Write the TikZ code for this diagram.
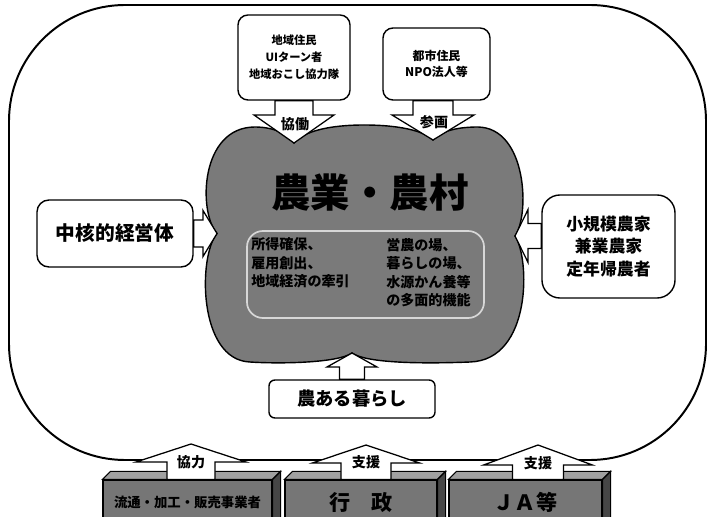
\documentclass[tikz,border=0pt]{standalone}
\usepackage{fontspec}
\setmainfont{Noto Sans CJK JP}
\usetikzlibrary{calc, positioning}
\definecolor{cloudgray}{RGB}{122, 122, 122}
\definecolor{blockgray}{RGB}{118, 118, 118}
\definecolor{blocktop}{RGB}{160, 160, 160}
\definecolor{blockside}{RGB}{70, 70, 70}
\definecolor{rimgray}{RGB}{215, 215, 215}

% fat block arrow: from, tip, half stem, half head, head length
\newcommand{\fatarrow}[5]{%
  \coordinate (fa-h) at ($(#2)!#5!(#1)$);
  \draw[fatarrowline] ($(#1)!#3!90:(#2)$) -- ($(fa-h)!#3!-90:(#1)$) -- ($(fa-h)!#4!-90:(#1)$) -- (#2)
    -- ($(fa-h)!#4!90:(#1)$) -- ($(fa-h)!#3!90:(#1)$) -- ($(#1)!#3!-90:(#2)$) -- cycle;
}

\begin{document}
\begin{tikzpicture}[x=0.025cm, y=-0.025cm,
  whitebox/.style={draw, line width=1pt, fill=white, align=center},
  fatarrowline/.style={draw, line width=0.9pt, fill=white, line join=miter},
  arrowlabel/.style={font=\bfseries\fontsize{10}{12}\selectfont, inner sep=1pt},
  blockface/.style={draw, line width=0.8pt, fill=blockgray, minimum height=1.125cm, inner sep=0pt}]
  \useasboundingbox (0,0) rectangle (709,517);

  % Region
  \draw[line width=1.4pt, rounded corners=2.9cm] (9,5) rectangle (706,460);

  % Arrow tips
  \coordinate (tipA) at (294,143);
  \coordinate (tipB) at (433,140);
  \coordinate (tipL) at (217,233.5);
  \coordinate (tipR) at (515,236);
  \coordinate (tipD) at (352,353);

  % Farming and villages
  \draw[line width=1pt, fill=cloudgray]
    (tipL) .. controls (198,212) and (200,127) .. (255,127)
    .. controls (275,127) and (289,135) .. (tipA)
    .. controls (304,131) and (330,125) .. (364,125)
    .. controls (400,125) and (424,131) .. (tipB)
    .. controls (442,130) and (460,127) .. (478,127)
    .. controls (527,128) and (530,215) .. (tipR)
    .. controls (530,258) and (532,360) .. (470,362)
    .. controls (420,364) and (366,363) .. (tipD)
    .. controls (338,363) and (280,364) .. (250,362)
    .. controls (198,360) and (198,256) .. (tipL) -- cycle;
  \node[draw=rimgray, line width=1.2pt, rounded corners=0.4cm, minimum width=5.925cm, minimum height=2.175cm] (rim) at (365.5,274.5) {};
  \node[font=\bfseries\fontsize{28}{30}\selectfont] (title) at (370,193) {農業・農村};
  \node[anchor=west, align=left, inner sep=0pt, font=\bfseries\fontsize{10}{13.2}\selectfont] (gain) at (251,263) {
    所得確保、\\雇用創出、\\地域経済の牽引
  };
  \node[anchor=west, align=left, inner sep=0pt, font=\bfseries\fontsize{10}{13.2}\selectfont] (role) at (386,272.5) {
    営農の場、\\暮らしの場、\\水源かん養等\\の多面的機能
  };

  % Actors round it
  \node[whitebox, rounded corners=0.25cm, minimum width=2.8cm, minimum height=2.125cm, font=\bfseries\fontsize{8}{12}\selectfont] (locals) at (294,57.5) {地域住民\\UIターン者\\地域おこし協力隊};
  \node[whitebox, rounded corners=0.25cm, minimum width=2.675cm, minimum height=1.8cm, font=\bfseries\fontsize{8.5}{11.5}\selectfont] (urban) at (436.5,64) {都市住民\\NPO法人等};
  \node[whitebox, rounded corners=0.3cm, minimum width=3.9cm, minimum height=1.675cm, font=\bfseries\fontsize{14}{16}\selectfont] (core) at (115,233.5) {中核的経営体};
  \node[whitebox, rounded corners=0.45cm, minimum width=3.325cm, minimum height=2.575cm, font=\bfseries\fontsize{12}{16}\selectfont] (small) at (608.5,246.5) {小規模農家\\兼業農家\\定年帰農者};
  \node[whitebox, rounded corners=0.15cm, minimum width=4.15cm, minimum height=0.95cm, font=\bfseries\fontsize{13}{15}\selectfont] (life) at (352,399) {農ある暮らし};

  \coordinate (fromA) at (locals.south -| tipA);
  \coordinate (fromB) at (urban.south -| tipB);
  \coordinate (fromL) at (core.east |- tipL);
  \coordinate (fromR) at (small.west |- tipR);
  \coordinate (fromD) at (life.north -| tipD);
  \fatarrow{fromA}{tipA}{0.475cm}{1.0cm}{0.7cm}
  \fatarrow{fromB}{tipB}{0.5cm}{1.025cm}{0.625cm}
  \fatarrow{fromL}{tipL}{0.34cm}{0.575cm}{0.35cm}
  \fatarrow{fromR}{tipR}{0.31cm}{0.66cm}{0.325cm}
  \fatarrow{fromD}{tipD}{0.31cm}{0.625cm}{0.35cm}
  \node[arrowlabel] (work) at (295,124) {協働};
  \node[arrowlabel] (join) at (434,122) {参画};

  % Supporters
  \node[blockface, minimum width=4.225cm, font=\bfseries\fontsize{9.5}{11}\selectfont] (trade) at (187.5,502.5) {流通・加工・販売事業者};
  \node[blockface, minimum width=3.8cm, font=\bfseries\fontsize{15}{17}\selectfont] (gov) at (361,502.5) {行　政};
  \node[blockface, minimum width=3.825cm, font=\bfseries\fontsize{15}{17}\selectfont] (ja) at (525.5,502.5) {ＪＡ等};
  \foreach \b in {trade, gov, ja} {
    \draw[line width=0.8pt, fill=blocktop] (\b.north west) -- ++(8,-8) -- ($(\b.north east)+(8,-8)$) -- (\b.north east) -- cycle;
    \draw[line width=0.8pt, fill=blockside] (\b.north east) -- ++(8,-8) -- ($(\b.south east)+(8,-8)$) -- (\b.south east) -- cycle;
  }

  \coordinate (tipa) at (191,444);
  \coordinate (tipb) at (366,445);
  \coordinate (tipc) at (538,445);
  \coordinate (froma) at (trade.north -| tipa);
  \coordinate (fromb) at (gov.north -| tipb);
  \coordinate (fromc) at (ja.north -| tipc);
  \fatarrow{froma}{tipa}{0.6cm}{1.375cm}{0.45cm}
  \fatarrow{fromb}{tipb}{0.625cm}{1.34cm}{0.45cm}
  \fatarrow{fromc}{tipc}{0.64cm}{1.36cm}{0.5cm}
  \node[arrowlabel] (coop) at (191,462) {協力};
  \node[arrowlabel] (aid) at (366,462) {支援};
  \node[arrowlabel] (aidja) at (538,463) {支援};
\end{tikzpicture}
\end{document}
